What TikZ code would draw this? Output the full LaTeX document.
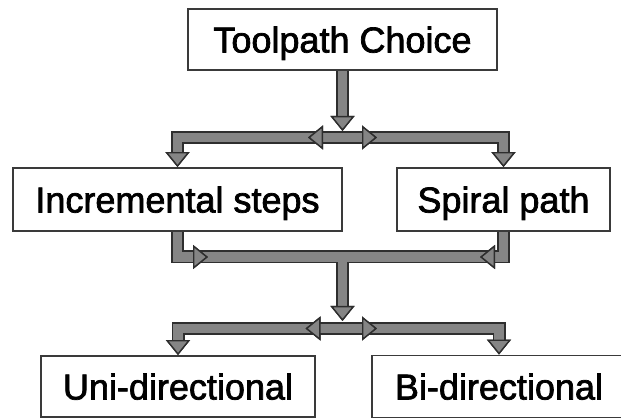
\documentclass[tikz,border=0pt]{standalone}
\usepackage{fontspec}
\setmainfont{Liberation Sans}
\newfontfamily\boxfont[FakeBold=2]{Liberation Sans}
\usepackage{tikz}
\usetikzlibrary{arrows.meta, calc}
\definecolor{pipegray}{HTML}{858585}
\definecolor{pipeedge}{HTML}{2e2e2e}
\definecolor{boxedge}{HTML}{3a3a3a}

\begin{document}
\begin{tikzpicture}[
    x=1pt, y=-1pt,
    box/.style={rectangle, draw=boxedge, line width=1.8pt, fill=white, inner sep=0pt,
      font=\boxfont\fontsize{36}{40}\selectfont, text height=26pt, text depth=0pt},
    pipe/.style={draw=pipegray, line width=9.5pt, line join=miter,
      preaction={draw=pipeedge, line width=13pt}},
    >={Triangle[length=15pt, width=24pt, fill=pipegray, color=pipeedge, line width=1.4pt]},
  ]
  \useasboundingbox (0,0) rectangle (621,419);

  \node[box, minimum width=309pt, minimum height=61pt] (choice) at (342.5,39.5) {Toolpath Choice};
  \node[box, minimum width=329pt, minimum height=63pt] (inc) at (177.5,199.5) {Incremental steps};
  \node[box, minimum width=213pt, minimum height=63pt] (spiral) at (503.5,199.5) {Spiral path};
  \node[box, minimum width=274pt, minimum height=61pt] (uni) at (178,386.5) {Uni-directional};
  \node[box, minimum width=254pt, minimum height=62pt] (bi) at (499,386.5) {Bi-directional};

  \coordinate (j1) at (342.5,137.5);
  \coordinate (j2) at (342.5,257);
  \coordinate (j3) at (342.5,328.5);
  \coordinate (t1) at (342.5,131);
  \coordinate (t2) at (342.5,321);

  \draw[pipe, <->] (inc.north) |- (j1) -| (spiral.north);
  \draw[pipe, <->] ($(j1)+(-34.5,0)$) -- ($(j1)+(34.5,0)$);
  \draw[pipe, ->] (choice.south) -- (t1);

  \draw[pipe] (inc.south) |- (j2) -| (spiral.south);
  \draw[pipe, ->] (inc.south) |- ($(j2)+(-134.5,0)$);
  \draw[pipe, ->] (spiral.south) |- ($(j2)+(137.5,0)$);
  \draw[pipe, ->] ($(j2)+(0,5)$) -- (t2);

  \draw[pipe, <->] (uni.north) |- (j3) -| (bi.north);
  \draw[pipe, <->] ($(j3)+(-37,0)$) -- ($(j3)+(34.5,0)$);
\end{tikzpicture}
\end{document}
